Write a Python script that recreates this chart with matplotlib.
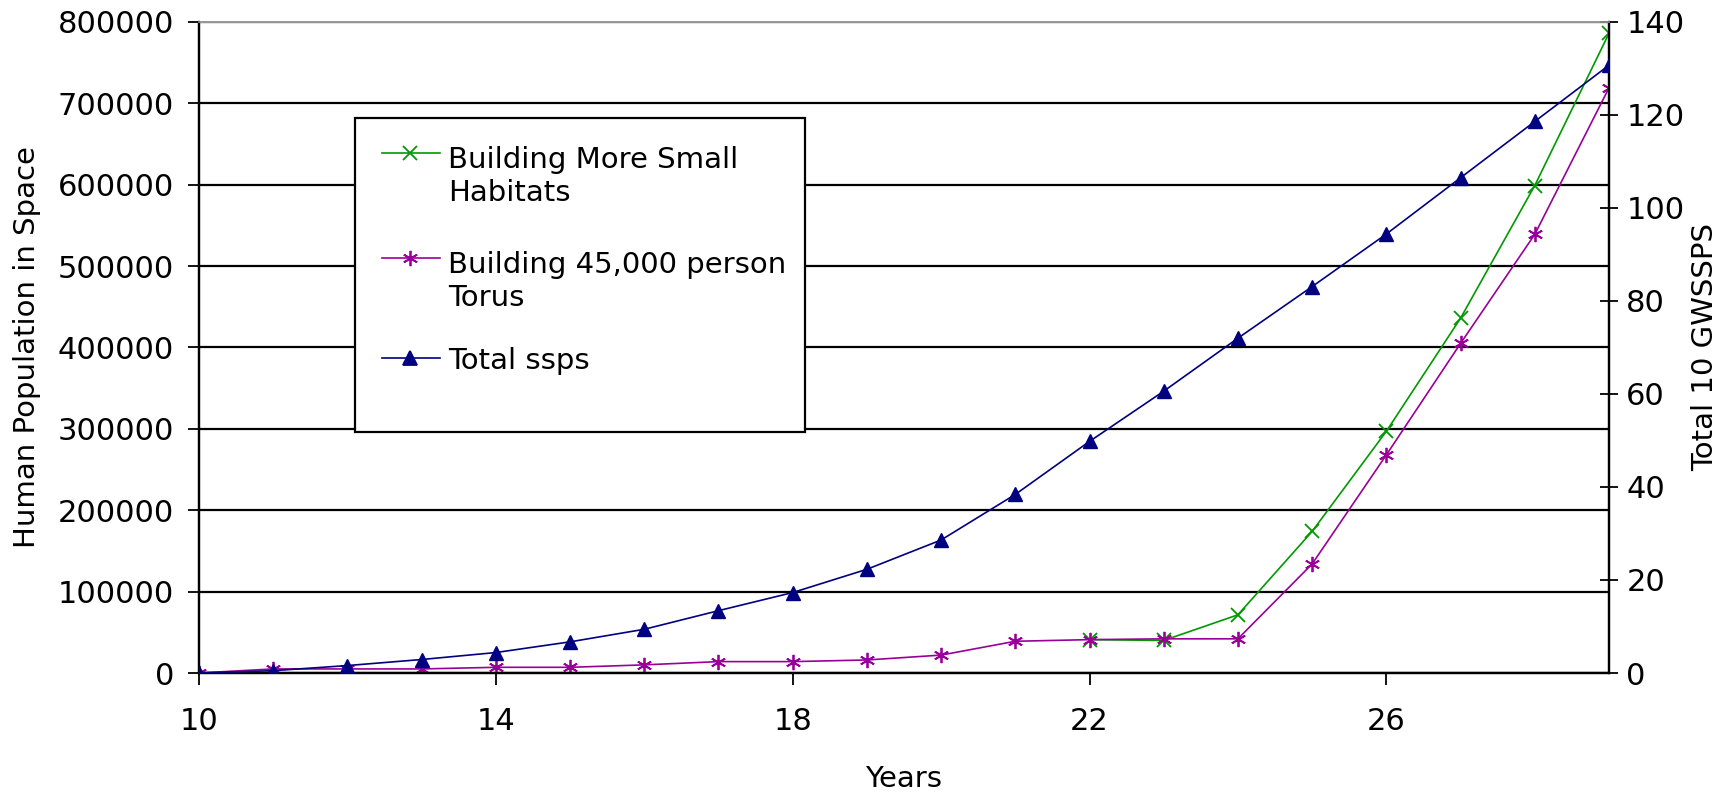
import matplotlib
matplotlib.use('Agg')
import matplotlib.pyplot as plt
from matplotlib.lines import Line2D
from matplotlib.patches import Rectangle

years = list(range(10, 30))
small_habitats_years = list(range(22, 30))
small_habitats = [41000, 40000, 71500, 174000, 297000, 436000, 599000, 786000]
torus = [0, 5000, 5000, 5000, 7000, 7000, 10000, 14000, 14000, 16000,
         22000, 39000, 41000, 42000, 42000, 134000, 268000, 405000, 539000, 719000]
total_ssps = [0, 0.5, 1.6, 2.9, 4.4, 6.7, 9.4, 13.4, 17.3, 22.3,
              28.6, 38.4, 49.8, 60.6, 72.0, 83.1, 94.4, 106.5, 118.6, 130.7]
series_labels = ['Building More Small\nHabitats', 'Building 45,000 person\nTorus', 'Total ssps']
x_ticks = [10, 14, 18, 22, 26]
left_ticks = list(range(0, 800001, 100000))
right_ticks = list(range(0, 141, 20))

GREEN = '#009900'
MAGENTA = '#990099'
NAVY = '#000080'

plt.rcParams['font.family'] = ['DejaVu Sans']

fig = plt.figure(figsize=(17.33, 7.92), dpi=100)
ax = fig.add_axes([0.11483, 0.15025, 0.8136, 0.8220])
ax2 = ax.twinx()

star = (6, 2, 0)
ax.plot(small_habitats_years, small_habitats, color=GREEN, lw=1.2, marker='x', ms=10, mew=1.3, zorder=3)
ax.plot(years, torus, color=MAGENTA, lw=1.2, marker=star, ms=11, mew=1.3, zorder=4)
ax2.plot(years, total_ssps, color=NAVY, lw=1.2, marker='^', ms=10, mec=NAVY, mfc=NAVY, zorder=3)

ax.set_xlim(10, 29)
ax.set_ylim(0, 800000)
ax2.set_ylim(0, 140)
ax.set_xticks(x_ticks)
ax.set_xticklabels([str(t) for t in x_ticks])
ax.set_yticks(left_ticks)
ax.set_yticklabels([str(t) for t in left_ticks])
ax2.set_yticks(right_ticks)
ax2.set_yticklabels([str(t) for t in right_ticks])

for a in (ax, ax2):
    for s in a.spines.values():
        s.set_color('black')
        s.set_linewidth(1.6)
    a.spines['top'].set_color('#999999')
    a.spines['top'].set_linewidth(1.2)

ax.yaxis.grid(True, color='black', lw=1.6)
ax.set_axisbelow(True)

ax.tick_params(axis='y', direction='out', length=8, width=1.3, labelsize=22, pad=10)
ax.tick_params(axis='x', direction='out', length=8.5, width=1.3, labelsize=22, pad=16)
ax2.tick_params(axis='y', direction='inout', length=13, width=1.3, labelsize=22, pad=6)

ax.set_xlabel('Years', fontsize=21, va='top')
ax.xaxis.set_label_coords(0.5, -0.141)
ax.set_ylabel('Human Population in Space', fontsize=21)
ax.yaxis.set_label_coords(-0.112, 0.5)
ax2.set_ylabel('Total 10 GWSSPS', fontsize=21, rotation=90)
ax2.yaxis.set_label_coords(1.058, 0.5)

# legend box
ax2.add_patch(Rectangle((0.1106, 0.370), 0.3192, 0.4825, transform=ax2.transAxes,
                        facecolor='white', edgecolor='black', lw=1.6, zorder=10))
entries = [
    (series_labels[0], GREEN, 'x', 10, 0.7988),
    (series_labels[1], MAGENTA, star, 11, 0.6375),
    (series_labels[2], NAVY, '^', 10, 0.4839),
]
line_step = 0.0562
for lab, col, mk, ms, yy in entries:
    ax2.add_line(Line2D([0.1298, 0.1709], [yy, yy], transform=ax2.transAxes, color=col,
                        lw=1.2, zorder=11))
    ax2.add_line(Line2D([0.1496], [yy], transform=ax2.transAxes, color=col, marker=mk,
                        ms=ms, mew=1.3, mfc=col, mec=col, lw=0, zorder=12))
    nlines = lab.count('\n') + 1
    ax2.text(0.1766, yy - 0.0177 - (nlines - 1) * line_step, lab, transform=ax2.transAxes,
             fontsize=21, va='baseline', ha='left', linespacing=1.25, zorder=12)

fig.savefig('out.png', dpi=100)
